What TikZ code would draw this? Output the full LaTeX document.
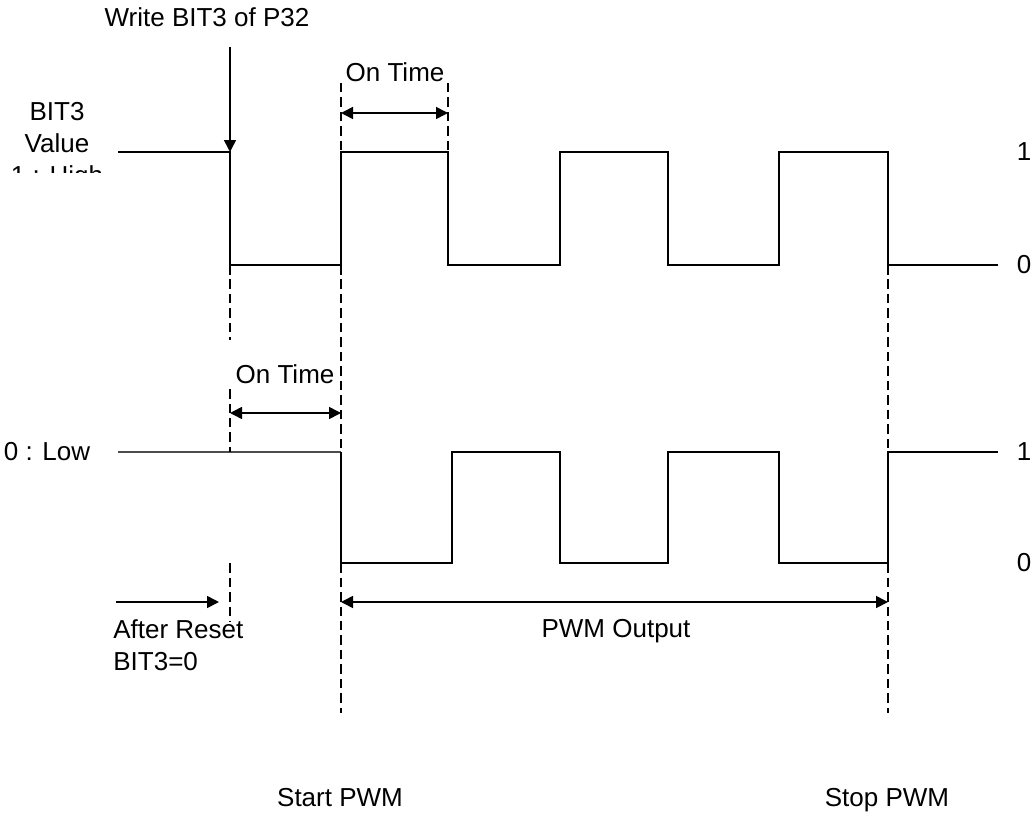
\documentclass[tikz,border=0pt]{standalone}
\usepackage{fontspec}
\setmainfont{Liberation Sans}
\usetikzlibrary{arrows.meta,positioning}

\begin{document}
\begin{tikzpicture}[
  x=0.02cm, y=-0.02cm,
  font=\fontsize{14.8}{18.2}\selectfont,
  wave/.style={line width=1.15pt},
  idle/.style={line width=0.6pt, black!70},
  guide/.style={line width=0.9pt, dash pattern=on 0.19cm off 0.1cm},
  edge/.style={-{Triangle[length=0.24cm, width=0.24cm]}, line width=0.9pt},
  span/.style={{Triangle[length=0.24cm, width=0.24cm]}-{Triangle[length=0.24cm, width=0.24cm]}, line width=0.9pt},
  lbl/.style={inner sep=0pt, anchor=base}
]
\useasboundingbox (0,0) rectangle (1033,814);
\node[lbl] (write) at (207,27) {Write BIT3 of P32};
\begin{scope}
\clip (0,80) rectangle (118,173);
\node[lbl, align=center] (bitval) at (57,184) {BIT3\\Value\\1 : High};
\end{scope}
\node (low) at (47,452) {0 : Low};
\node[lbl] (ontop) at (395,82) {On Time};
\node[lbl] (onlow) at (285,383) {On Time};
\node[lbl, anchor=base west, align=left] (reset) at (113,670) {After Reset\\BIT3=0};
\node[lbl] (pwmout) at (616,637) {PWM Output};
\node[lbl] (start) at (340,806) {Start PWM};
\node[lbl] (stop) at (887,806) {Stop PWM};
\node (top1) at (1024,152) {1};
\node (top0) at (1024,265) {0};
\node (bot1) at (1024,452) {1};
\node (bot0) at (1024,563) {0};
\draw[wave] (118,152) -| (230,265) -| (341,152) -| (448,265) -| (560,152) -| (668,265) -| (779,152) -| (888,265) -- (998,265);
\draw[idle] (118,452) -- (341,452);
\draw[wave] (341,452) -- (341,563) -| (452,452) -| (560,563) -| (668,452) -| (779,563) -| (888,452) -- (998,452);
\draw[guide] (230,265) -- (230,340);
\draw[guide] (230,389) -- (230,452);
\draw[guide] (230,563) -- (230,622);
\draw[guide] (341,83) -- (341,152);
\draw[guide] (341,265) -- (341,452);
\draw[guide] (341,563) -- (341,713);
\draw[guide] (448,83) -- (448,152);
\draw[guide] (888,265) -- (888,452);
\draw[guide] (888,563) -- (888,713);
\coordinate (wr) at (230,47);
\coordinate (wrend) at (230,152);
\coordinate (ta) at (341,113);
\coordinate (tb) at (448,113);
\coordinate (la) at (230,413);
\coordinate (lb) at (341,413);
\coordinate (ra) at (116,602);
\coordinate (rb) at (219,602);
\coordinate (pa) at (341,602);
\coordinate (pb) at (888,602);
\draw[edge] (wr) -- (wrend);
\draw[span] (ta) -- (tb);
\draw[span] (la) -- (lb);
\draw[edge] (ra) -- (rb);
\draw[span] (pa) -- (pb);
\end{tikzpicture}
\end{document}
